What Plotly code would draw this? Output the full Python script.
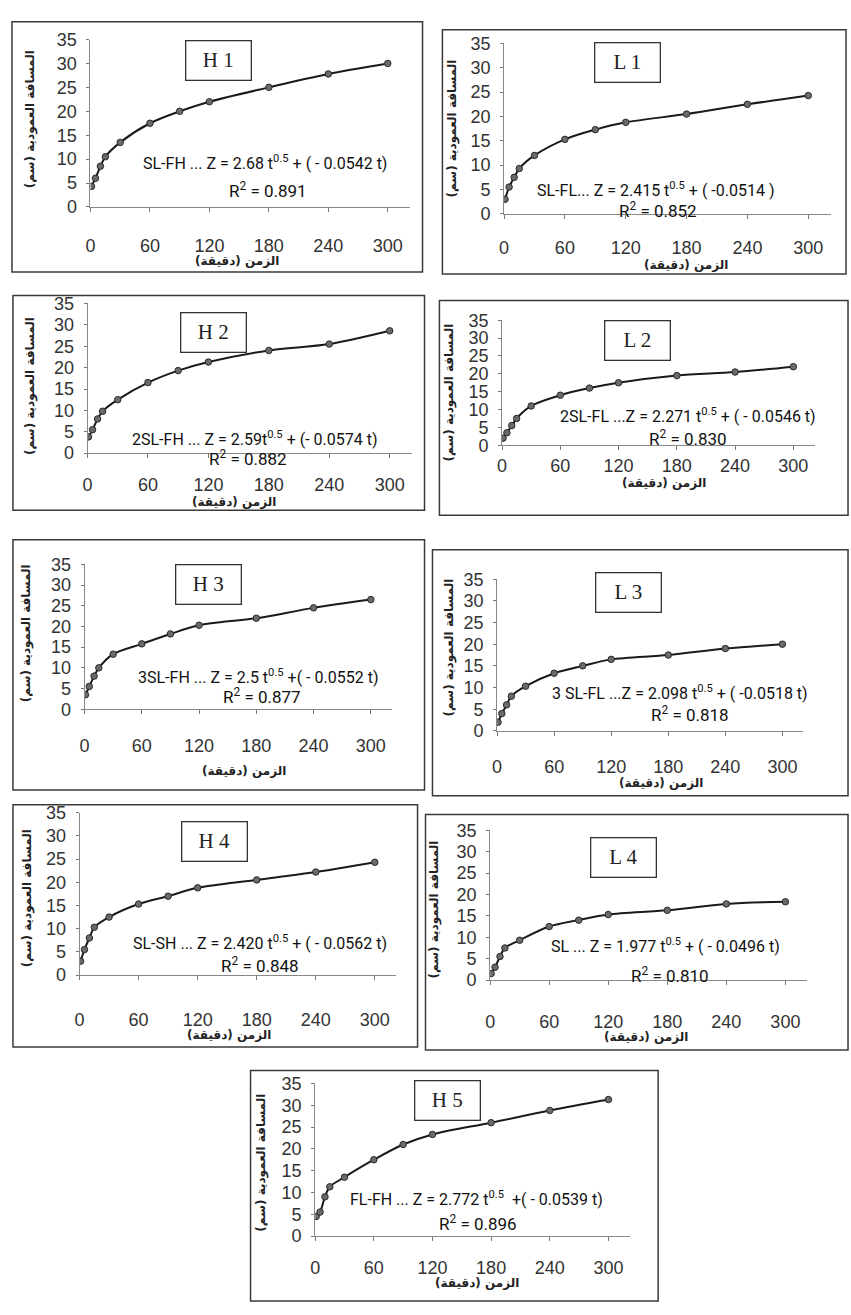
import plotly.graph_objects as go

W, H = 851, 1315

# ---------------- data ----------------
time_min = [1, 5, 10, 15, 30, 60, 90, 120, 180, 240, 300]
x_ticks = [0, 60, 120, 180, 240, 300]
y_ticks = [0, 5, 10, 15, 20, 25, 30, 35]

panel_names = ["H 1", "L 1", "H 2", "L 2", "H 3", "L 3", "H 4", "L 4", "H 5"]

z_H1 = [4.3, 6.0, 8.5, 10.5, 13.5, 17.5, 20.0, 22.0, 25.0, 27.8, 30.0]
z_L1 = [3.0, 5.5, 7.5, 9.3, 12.0, 15.3, 17.3, 18.8, 20.5, 22.5, 24.3]
z_H2 = [3.8, 5.5, 8.0, 9.8, 12.5, 16.5, 19.3, 21.3, 24.0, 25.5, 28.6]
z_L2 = [2.0, 3.5, 5.5, 7.5, 11.0, 14.0, 16.0, 17.5, 19.5, 20.5, 22.0]
z_H3 = [3.5, 5.5, 8.0, 10.0, 13.3, 15.8, 18.2, 20.3, 22.0, 24.5, 26.5]
z_L3 = [2.0, 4.0, 6.0, 8.0, 10.3, 13.3, 15.0, 16.5, 17.5, 19.0, 20.0]
z_H4 = [3.0, 5.5, 8.0, 10.3, 12.5, 15.3, 17.0, 18.8, 20.5, 22.2, 24.3]
z_L4 = [1.5, 3.0, 5.5, 7.5, 9.3, 12.5, 14.0, 15.3, 16.3, 17.8, 18.3]
z_H5 = [4.5, 5.5, 9.0, 11.3, 13.5, 17.5, 21.0, 23.3, 26.0, 28.8, 31.3]
series = [z_H1, z_L1, z_H2, z_L2, z_H3, z_L3, z_H4, z_L4, z_H5]

equations = [
    "SL-FH ... Z = 2.68 t<sup>0.5</sup> + ( - 0.0542 t)",
    "SL-FL... Z = 2.415 t<sup>0.5</sup> + ( -0.0514 )",
    "2SL-FH ... Z = 2.59t<sup>0.5</sup> + (- 0.0574 t)",
    "2SL-FL ...Z = 2.271 t<sup>0.5</sup> + ( - 0.0546 t)",
    "3SL-FH ... Z = 2.5 t<sup>0.5</sup> +( - 0.0552 t)",
    "3 SL-FL ...Z = 2.098 t<sup>0.5</sup> + ( -0.0518 t)",
    "SL-SH ... Z = 2.420 t<sup>0.5</sup> + ( - 0.0562 t)",
    "SL ... Z = 1.977 t<sup>0.5</sup> + ( - 0.0496 t)",
    "FL-FH ... Z = 2.772 t<sup>0.5</sup>  +( - 0.0539 t)",
]
r2_values = ["0.891", "0.852", "0.882", "0.830", "0.877", "0.818", "0.848", "0.810", "0.896"]

x_title = "الزمن (دقيقة)"
y_title = "المسافة العمودية (سم)"

# ---------------- layout geometry (pixels) ----------------
geom = [
    dict(box=(7, 12, 420, 266), t0=86, t300=385, y0=200, y35=30, so=18,
         eq=(262, 155), r2=(265, 183), tb=(215, 51), xt=(233, 255), yt=(25, 111)),
    dict(box=(440, 20, 846, 268), t0=502, t300=808, y0=207, y35=34, so=14,
         eq=(654, 182), r2=(657, 203), tb=(626, 53), xt=(685, 259), yt=(450, 120)),
    dict(box=(8, 290, 422, 508), t0=83, t300=387, y0=450, y35=298, so=11,
         eq=(251, 435), r2=(244, 455), tb=(210, 327), xt=(230, 500), yt=(25, 382)),
    dict(box=(437, 295, 848, 513), t0=500, t300=793, y0=442, y35=315, so=0,
         eq=(687, 412), r2=(687, 435), tb=(636, 336), xt=(663, 480), yt=(447, 388)),
    dict(box=(8, 538, 422, 792), t0=80, t300=368, y0=710, y35=563, so=16,
         eq=(254, 677), r2=(259, 697), tb=(205, 583), xt=(240, 773), yt=(22, 633)),
    dict(box=(430, 548, 848, 798), t0=495, t300=782, y0=732, y35=578, so=16,
         eq=(679, 693), r2=(689, 715), tb=(627, 591), xt=(660, 785), yt=(447, 647)),
    dict(box=(8, 807, 415, 1053), t0=75, t300=372, y0=980, y35=815, so=24,
         eq=(257, 947), r2=(257, 970), tb=(211, 844), xt=(225, 1041), yt=(22, 902)),
    dict(box=(423, 817, 848, 1056), t0=488, t300=785, y0=985, y35=833, so=21,
         eq=(664, 950), r2=(669, 980), tb=(622, 861), xt=(645, 1043), yt=(432, 913)),
    dict(box=(247, 1077, 657, 1311), t0=312, t300=607, y0=1245, y35=1090, so=11,
         eq=(474, 1207), r2=(476, 1232), tb=(445, 1107), xt=(475, 1293), yt=(258, 1170)),
]

XMAX = 322

def px(x):
    return x / W

def py(y):
    return 1 - y / H

fig = go.Figure()
shapes = []
annotations = []
layout_axes = {}

for i, (name, z, g) in enumerate(zip(panel_names, series, geom)):
    n = i + 1
    xa = "x" if n == 1 else f"x{n}"
    ya = "y" if n == 1 else f"y{n}"
    xkey = "xaxis" if n == 1 else f"xaxis{n}"
    ykey = "yaxis" if n == 1 else f"yaxis{n}"

    fig.add_trace(go.Scatter(
        x=time_min, y=z, mode="lines+markers", xaxis=xa, yaxis=ya,
        line=dict(color="#1a1a1a", width=2, shape="spline", smoothing=0.9),
        marker=dict(size=6.5, color="#6a6a6a", line=dict(color="#2a2a2a", width=1)),
        showlegend=False, hoverinfo="x+y",
    ))

    t0, t300 = g["t0"], g["t300"]
    right = t0 + (t300 - t0) * XMAX / 300
    layout_axes[xkey] = dict(
        domain=[px(t0), px(right)], range=[0, XMAX], anchor=ya,
        tickvals=x_ticks, ticks="outside", ticklen=4, tickcolor="#777",
        showline=True, linecolor="#888", linewidth=1, showgrid=False, zeroline=False,
        tickfont=dict(family="Liberation Sans, Arial", size=18, color="#333"),
        ticklabelstandoff=g["so"], fixedrange=True,
    )
    layout_axes[ykey] = dict(
        domain=[py(g["y0"]), py(g["y35"])], range=[0, 35], anchor=xa,
        tickvals=y_ticks, ticks="outside", ticklen=3, tickcolor="#777",
        showline=True, linecolor="#888", linewidth=1, showgrid=False, zeroline=False,
        tickfont=dict(family="Liberation Sans, Arial", size=18, color="#333"),
        ticklabelstandoff=6, fixedrange=True,
    )

    bx0, by0, bx1, by1 = g["box"]
    shapes.append(dict(type="rect", xref="paper", yref="paper",
                       x0=px(bx0), x1=px(bx1), y0=py(by1), y1=py(by0),
                       line=dict(color="#3a3a3a", width=1.5)))

    annotations.append(dict(
        x=px(g["tb"][0]), y=py(g["tb"][1]), xref="paper", yref="paper",
        text=name, showarrow=False, width=58, height=32,
        font=dict(family="Liberation Serif, Times New Roman", size=21, color="#222"),
        bordercolor="#333", borderwidth=1.3, borderpad=3, bgcolor="rgba(255,255,255,0.9)",
        xanchor="center", yanchor="middle"))
    annotations.append(dict(
        x=px(g["eq"][0]), y=py(g["eq"][1]), xref="paper", yref="paper",
        text=equations[i], showarrow=False,
        font=dict(family="Roboto, Noto Sans", size=16, color="#111"),
        xanchor="center", yanchor="middle"))
    annotations.append(dict(
        x=px(g["r2"][0]), y=py(g["r2"][1]), xref="paper", yref="paper",
        text="R<sup>2</sup> = " + r2_values[i], showarrow=False,
        font=dict(family="Roboto, Noto Sans", size=17, color="#111"),
        xanchor="center", yanchor="middle"))
    annotations.append(dict(
        x=px(g["xt"][0]), y=py(g["xt"][1]), xref="paper", yref="paper",
        text="<b>" + x_title + "</b>", showarrow=False,
        font=dict(family="DejaVu Sans", size=12, color="#222"),
        xanchor="center", yanchor="middle"))
    annotations.append(dict(
        x=px(g["yt"][0]), y=py(g["yt"][1]), xref="paper", yref="paper",
        text="<b>" + y_title + "</b>", showarrow=False, textangle=-90,
        font=dict(family="DejaVu Sans", size=12, color="#222"),
        xanchor="center", yanchor="middle"))

fig.update_layout(
    width=W, height=H, margin=dict(l=0, r=0, t=0, b=0),
    paper_bgcolor="white", plot_bgcolor="rgba(0,0,0,0)",
    shapes=shapes, annotations=annotations, **layout_axes,
)

fig.write_html("out.html", config={"displayModeBar": False},
               post_script="document.body.style.margin='0px';document.body.style.overflow='hidden';")
